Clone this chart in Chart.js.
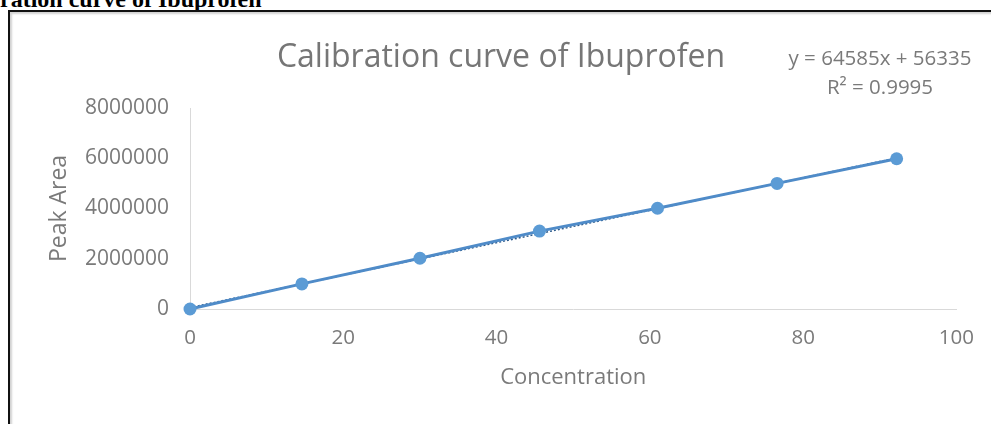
<!DOCTYPE html>
<html>
<head>
<meta charset="utf-8">
<title>Calibration curve of Ibuprofen</title>
<script src="https://cdn.jsdelivr.net/npm/chart.js@4.4.1/dist/chart.umd.min.js"></script>
<style>
  html, body { margin: 0; padding: 0; background: #fff; width: 991px; height: 424px; overflow: hidden; }
  #heading { position: absolute; left: 0; top: -13px; font: bold 24px "Liberation Serif", "Times New Roman", serif; line-height: 24px; color: #000; white-space: nowrap; }
  #frame { position: absolute; left: 8px; top: 10px; width: 1010px; height: 440px; border-left: 2px solid #111; border-top: 2px solid #111; box-shadow: inset 2px 2px 2px rgba(0,0,0,0.18); pointer-events: none; }
  #wrap { position: absolute; left: 0; top: 0; width: 991px; height: 424px; }
  #eq { position: absolute; left: 770px; top: 43px; width: 220px; text-align: center; font: 20.5px "Open Sans", sans-serif; line-height: 29px; color: #7a7a7a; white-space: nowrap; }
</style>
</head>
<body>
<div id="heading">ration curve of Ibuprofen</div>
<div id="wrap"><canvas id="chart" width="991" height="424"></canvas></div>
<div id="eq">y = 64585x + 56335<br>R² = 0.9995</div>
<div id="frame"></div>
<script>
// Standard solutions: concentration vs. measured peak area
const concentration = [0, 14.6, 30.0, 45.6, 61.0, 76.6, 92.2];
const peakArea = [0, 1000000, 2020000, 3100000, 4010000, 5000000, 5980000];

// Axis ticks
const xTicks = [0, 20, 40, 60, 80, 100];
const yTicks = [0, 2000000, 4000000, 6000000, 8000000];

// Least-squares fit, as printed next to the plot
const slope = 64585;
const intercept = 56335;

const grey = '#7a7a7a';
const blue = '#5b9bd5';
const font = 'Open Sans';

const points = concentration.map((c, i) => ({ x: c, y: peakArea[i] }));
const fitEnds = [concentration[0], concentration[concentration.length - 1]];
const fitLine = fitEnds.map(c => ({ x: c, y: slope * c + intercept }));

new Chart(document.getElementById('chart'), {
  type: 'scatter',
  data: {
    datasets: [
      {
        label: 'Peak Area',
        data: points,
        showLine: true,
        borderColor: '#4f8bc8',
        borderWidth: 3,
        backgroundColor: blue,
        pointBackgroundColor: blue,
        pointBorderColor: blue,
        pointBorderWidth: 0,
        pointRadius: 6.5,
        clip: false,
        order: 0
      },
      {
        label: 'Linear fit',
        data: fitLine,
        showLine: true,
        borderColor: '#2f5c8c',
        borderWidth: 1.5,
        borderDash: [2, 2],
        pointRadius: 0,
        clip: false,
        order: 1
      }
    ]
  },
  options: {
    responsive: false,
    animation: false,
    layout: { padding: { left: 44, right: 33, top: 0, bottom: 0 } },
    plugins: {
      legend: { display: false },
      tooltip: { enabled: false },
      title: {
        display: true,
        text: 'Calibration curve of Ibuprofen',
        color: '#767676',
        font: { family: font, size: 32, weight: 'normal', lineHeight: 1.2 },
        padding: { top: 39, bottom: 30.6 }
      }
    },
    scales: {
      x: {
        type: 'linear',
        min: 0,
        max: 100,
        afterBuildTicks: s => { s.ticks = xTicks.map(v => ({ value: v })); },
        afterFit: s => { s.height = 115; },
        grid: { display: false, drawTicks: false },
        border: { display: true, color: '#d9d9d9', width: 1 },
        ticks: { color: grey, padding: 17, font: { family: font, size: 20.5 }, callback: v => String(v) },
        title: {
          display: true,
          text: 'Concentration',
          color: grey,
          font: { family: font, size: 22, lineHeight: 1.2 },
          padding: { top: 0, bottom: 33 }
        }
      },
      y: {
        type: 'linear',
        min: 0,
        max: 8000000,
        afterBuildTicks: s => { s.ticks = yTicks.map(v => ({ value: v })); },
        afterFit: s => { s.width = 146; },
        grid: { display: false, drawTicks: false },
        border: { display: true, color: '#d9d9d9', width: 1 },
        ticks: { color: grey, padding: 21, font: { family: font, size: 21 }, callback: v => String(v) },
        title: {
          display: true,
          text: 'Peak Area',
          color: grey,
          font: { family: font, size: 23, lineHeight: 1.2 },
          padding: { top: 2, bottom: 0 }
        }
      }
    }
  }
});
</script>
</body>
</html>
